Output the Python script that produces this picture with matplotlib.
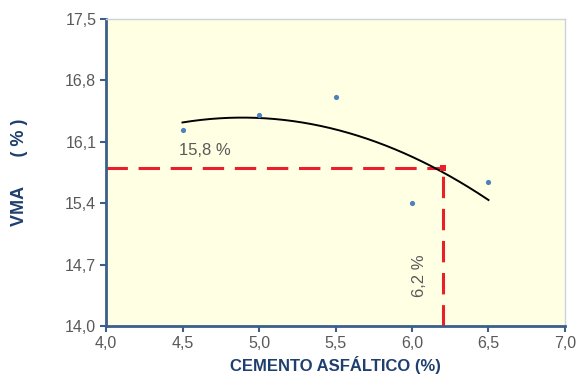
import numpy as np
import matplotlib
matplotlib.use("Agg")
import matplotlib.pyplot as plt

plt.rcParams['font.family'] = ['Liberation Sans', 'DejaVu Sans']

# Asphalt content (%) and measured VMA (%)
asphalt = [4.5, 5.0, 5.5, 6.0, 6.5]
vma = [16.24, 16.41, 16.61, 15.40, 15.64]

# Design point
design_asphalt = 6.2
design_vma = 15.8

x_ticks = [4.0, 4.5, 5.0, 5.5, 6.0, 6.5, 7.0]
y_ticks = [14.0, 14.7, 15.4, 16.1, 16.8, 17.5]

spine_blue = '#3B5E8C'
label_blue = '#1F3F6E'
tick_gray = '#595959'

fig = plt.figure(figsize=(5.78, 3.80), dpi=100)
ax = fig.add_axes([0.1834, 0.142, 0.7941, 0.808])
ax.set_facecolor('#FFFFE3')

# Second-order trend line through the measurements
coef = np.polyfit(asphalt, vma, 2)
xs = np.linspace(min(asphalt), max(asphalt), 200)
ax.plot(xs, np.polyval(coef, xs), color='black', lw=1.4, zorder=3)

ax.scatter(asphalt, vma, s=14, color='#4F81BD', zorder=4, linewidths=0)

# Design guide lines
red = '#E8202A'
ax.plot([x_ticks[0], design_asphalt], [design_vma, design_vma], color=red,
        lw=2.2, dashes=(7, 3.5), zorder=2)
ax.plot([design_asphalt, design_asphalt], [y_ticks[0], design_vma], color=red,
        lw=2.2, dashes=(7, 3.5), zorder=2)
ax.scatter([design_asphalt], [design_vma], s=22, color=red, marker='s', zorder=5,
           linewidths=0)

ax.text(4.48, 16.0, '15,8 %', fontsize=12, color=tick_gray, ha='left', va='center')
ax.text(6.046, 14.575, '6,2 %', fontsize=12, color=tick_gray, ha='center', va='center',
        rotation=90)

ax.set_xlim(x_ticks[0], x_ticks[-1])
ax.set_ylim(y_ticks[0], y_ticks[-1])
ax.set_xticks(x_ticks)
ax.set_yticks(y_ticks)
ax.set_xticklabels([f'{v:.1f}'.replace('.', ',') for v in x_ticks])
ax.set_yticklabels([f'{v:.1f}'.replace('.', ',') for v in y_ticks])
ax.tick_params(axis='both', direction='out', length=4, width=1.5, color=spine_blue,
               labelcolor=tick_gray, labelsize=11.5, pad=3)

for side in ('left', 'bottom'):
    ax.spines[side].set_color(spine_blue)
    ax.spines[side].set_linewidth(2)
for side in ('top', 'right'):
    ax.spines[side].set_color('#C9D3E0')
    ax.spines[side].set_linewidth(1)

ax.set_xlabel('CEMENTO ASFÁLTICO (%)', fontsize=12, fontweight='bold',
              color=label_blue, labelpad=4)
ax.set_ylabel('VMA      ( % )', fontsize=13, fontweight='bold',
              color=label_blue, labelpad=27)

fig.savefig('out.png', dpi=100)
